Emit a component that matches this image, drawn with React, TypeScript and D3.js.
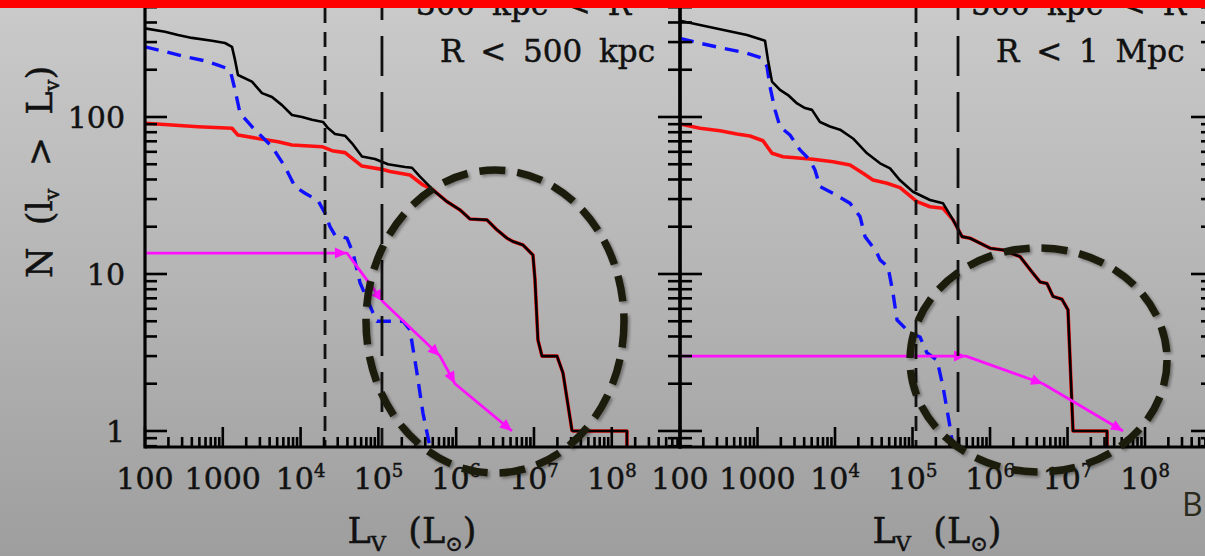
import React from "react";
import * as d3 from "d3";

const WIDTH = 1205;
const HEIGHT = 556;

// ---------- tick labels ----------
const xTickValues = [1e2, 1e3, 1e4, 1e5, 1e6, 1e7, 1e8];
const xTickBase = ["100", "1000", "10", "10", "10", "10", "10"];
const xTickExp = ["", "", "4", "5", "6", "7", "8"];
const yTickValues = [1, 10, 100];
const yTickLabels = ["1", "10", "100"];

// ---------- left panel: 300 kpc < R < 500 kpc ----------
const leftBlackLogL = [2.0, 2.257, 2.424, 2.604, 2.861, 3.028, 3.118, 3.157, 3.195, 3.375, 3.504, 3.632, 3.761, 3.889, 4.018, 4.147, 4.288, 4.352, 4.442, 4.571, 4.661, 4.789, 4.956, 5.123, 5.342, 5.432, 5.535, 5.702, 5.882, 6.049, 6.177, 6.396, 6.524, 6.653, 6.73, 6.859, 6.987, 7.013, 7.051, 7.103, 7.296, 7.373, 7.488, 7.501, 8.195, 8.195];
const leftBlackN = [367, 349, 333, 319, 306, 296, 280, 231, 185, 168, 142, 134, 119, 103, 100, 96, 93, 85, 78, 76, 68, 56, 54, 50, 48, 47.5, 41.7, 34.3, 28.9, 25.6, 22.4, 22.1, 19.1, 16.9, 16.1, 15.3, 13.2, 9.2, 3.8, 3, 3, 2.34, 1.01, 1, 1, 0.79];

const leftRedLogL = [2.0, 2.347, 2.681, 3.118, 3.195, 3.452, 3.71, 3.889, 4.275, 4.404, 4.571, 4.789, 5.046, 5.149, 5.406, 5.573, 5.702, 5.882, 6.049, 6.177, 6.396, 6.524, 6.653, 6.73, 6.859, 6.987, 7.013, 7.051, 7.103, 7.296, 7.373, 7.488, 7.501, 8.195, 8.195];
const leftRedN = [91.2, 89, 86.7, 84.7, 76.7, 73, 69.6, 66.3, 64.7, 61, 59.3, 48.7, 46.4, 44.9, 42.7, 36.9, 34.3, 28.9, 25.6, 22.4, 22.1, 19.1, 16.9, 16.1, 15.3, 13.2, 9.2, 3.8, 3, 3, 2.34, 1.01, 1, 1, 0.79];

const leftBlueLogL = [2.0, 2.257, 2.514, 2.771, 2.938, 3.054, 3.105, 3.157, 3.221, 3.375, 3.632, 3.799, 3.928, 4.057, 4.224, 4.314, 4.378, 4.442, 4.596, 4.674, 4.764, 4.931, 4.982, 5.316, 5.406, 5.496, 5.573, 5.663];
const leftBlueN = [280, 261, 242, 228, 214, 204, 190, 149, 106, 86.7, 64.7, 48.3, 36, 32.7, 29.3, 24.4, 20, 17.7, 16.9, 13.6, 8.8, 5.65, 5, 5, 4.4, 2.34, 1.3, 0.79];

const leftMagentaLogL = [2.0, 4.596, 5.059, 5.792, 5.985, 6.717];
const leftMagentaN = [13.6, 13.6, 6.66, 3, 2, 1];

const leftShortDashLogL = 4.314;
const leftLongDashLogL = 5.046;
// circled region (data bounds: log10 L min/max, log10 N min/max)
const leftCircleLogL = [4.841, 8.157];
const leftCircleLogN = [-0.268, 1.662];

// ---------- right panel: 500 kpc < R < 1 Mpc ----------
const rightBlackLogL = [2.0, 2.258, 2.516, 2.865, 3.097, 3.135, 3.187, 3.29, 3.394, 3.51, 3.613, 3.703, 3.806, 3.935, 4.065, 4.232, 4.413, 4.581, 4.71, 4.839, 5.006, 5.226, 5.394, 5.523, 5.639, 5.742, 6.0, 6.168, 6.387, 6.555, 6.645, 6.735, 6.813, 6.929, 7.006, 7.071, 7.51, 7.51];
const rightBlackN = [410, 385, 362, 333, 306, 231, 168, 149, 138, 122, 114, 111, 93, 87, 83, 73, 58.7, 50.7, 47.1, 39.5, 33.4, 29.6, 28.2, 22.1, 17.3, 16.9, 14.6, 14.2, 12.9, 10.1, 8.9, 8.7, 7.2, 6.9, 5.9, 1, 1, 0.79];

const rightRedLogL = [2.0, 2.258, 2.516, 2.735, 2.903, 3.071, 3.187, 3.329, 3.716, 3.974, 4.194, 4.361, 4.49, 4.671, 4.839, 5.058, 5.226, 5.394, 5.523, 5.639, 5.742, 6.0, 6.168, 6.387, 6.555, 6.645, 6.735, 6.813, 6.929, 7.006, 7.071, 7.51, 7.51];
const rightRedN = [90.2, 84.7, 81.8, 78, 75.7, 70.6, 58.7, 55.8, 53.8, 51.9, 49.4, 43.8, 39.7, 37.8, 35.5, 28.9, 26.8, 26.2, 22.1, 17.3, 16.9, 14.6, 14.2, 12.9, 10.1, 8.9, 8.7, 7.2, 6.9, 5.9, 1, 1, 0.79];

const rightBlueLogL = [2.0, 2.258, 2.555, 2.865, 3.058, 3.123, 3.161, 3.226, 3.29, 3.419, 3.548, 3.677, 3.742, 3.806, 3.974, 4.194, 4.323, 4.387, 4.452, 4.542, 4.581, 4.684, 4.748, 4.8, 4.968, 5.097, 5.187, 5.316, 5.394, 5.484, 5.523];
const rightBlueN = [317, 295, 274, 255, 237, 209, 156, 111, 86.7, 76.8, 61.7, 53.2, 45.9, 36, 32.7, 28.2, 23.2, 17.3, 15.7, 13.6, 12.3, 11.1, 7.57, 5.09, 4.21, 3.97, 3.14, 2.83, 1.91, 1.06, 0.79];

const rightMagentaLogL = [2.0, 5.69, 6.684, 7.716];
const rightMagentaN = [3, 3, 2, 1];

const rightShortDashLogL = 5.045;
const rightLongDashLogL = 5.587;
const rightCircleLogL = [4.968, 8.284];
const rightCircleLogN = [-0.261, 1.166];

// ---------- layout ----------
const Y_TOP = -40;
const Y_BOTTOM = 447;
const X_DOMAIN: [number, number] = [100, 10 ** 8.877];
const Y_DOMAIN: [number, number] = [10 ** -0.102, 1000];

const SERIF = "'DejaVu Serif', serif";
const INK = "#111";

type PanelProps = {
  id: string;
  x0: number;
  x1: number;
  black: [number[], number[]];
  red: [number[], number[]];
  blue: [number[], number[]];
  magenta: [number[], number[]];
  shortDash: number;
  longDash: number;
  circleL: number[];
  circleN: number[];
  title1: string;
  title2: string;
  t1x: number;
  t2x: number;
  labelX: number;
  showYLabels: boolean;
};

function Panel(p: PanelProps) {
  const x = d3.scaleLog().domain(X_DOMAIN).range([p.x0, p.x1]);
  const y = d3.scaleLog().domain(Y_DOMAIN).range([Y_BOTTOM, Y_TOP]);
  const line = d3
    .line<[number, number]>()
    .x((d) => x(10 ** d[0]))
    .y((d) => y(d[1]));
  const pts = (s: [number[], number[]]) => s[0].map((v, i) => [v, s[1][i]] as [number, number]);

  const xTicks: { v: number; major: boolean }[] = [];
  for (let k = 2; k <= 8; k++) {
    for (let m = 1; m <= 9; m++) {
      const v = m * 10 ** k;
      if (v <= X_DOMAIN[1]) xTicks.push({ v, major: m === 1 });
    }
  }
  const yTicks: { v: number; major: boolean }[] = [];
  for (let k = -1; k <= 2; k++) {
    for (let m = 1; m <= 9; m++) {
      const v = m * 10 ** k;
      if (v >= Y_DOMAIN[0] && v <= Y_DOMAIN[1]) yTicks.push({ v, major: m === 1 });
    }
  }
  yTicks.push({ v: 1000, major: true });

  const mag = pts(p.magenta);
  const arrows = mag.slice(1).map((d, i) => {
    const prev = mag[i];
    const px = x(10 ** d[0]);
    const py = y(d[1]);
    const qx = x(10 ** prev[0]);
    const qy = y(prev[1]);
    const ang = (Math.atan2(py - qy, px - qx) * 180) / Math.PI;
    return { px, py, ang };
  });

  const ex0 = x(10 ** p.circleL[0]);
  const ex1 = x(10 ** p.circleL[1]);
  const ey0 = y(10 ** p.circleN[1]);
  const ey1 = y(10 ** p.circleN[0]);

  return (
    <g>
      <clipPath id={`clip-${p.id}`}>
        <rect x={p.x0} y={Y_TOP} width={p.x1 - p.x0} height={Y_BOTTOM - Y_TOP} />
      </clipPath>
      <g clipPath={`url(#clip-${p.id})`} fill="none" strokeLinejoin="round">
        <path d={line(pts(p.red)) || ""} stroke="#ff1010" strokeWidth={3.6} />
        <path d={line(pts(p.blue)) || ""} stroke="#1010ff" strokeWidth={3.4} strokeDasharray="14 9" />
        <path d={line(pts(p.black)) || ""} stroke="#000" strokeWidth={2.6} />
        <path d={line(mag) || ""} stroke="#ff10ff" strokeWidth={2.8} />
        {arrows.map((a, i) => (
          <path
            key={i}
            d="M0,0 L-12,-5.5 L-12,5.5 Z"
            fill="#ff10ff"
            stroke="none"
            transform={`translate(${a.px},${a.py}) rotate(${a.ang})`}
          />
        ))}
        <line x1={x(10 ** p.shortDash)} x2={x(10 ** p.shortDash)} y1={Y_TOP} y2={Y_BOTTOM} stroke={INK} strokeWidth={2.8} strokeDasharray="15 9" />
        <line x1={x(10 ** p.longDash)} x2={x(10 ** p.longDash)} y1={Y_TOP + 20} y2={Y_BOTTOM} stroke={INK} strokeWidth={2.8} strokeDasharray="40 16" />
      </g>
      <g stroke="#000" strokeWidth={2.6}>
        {xTicks.map((t, i) => (
          <line key={`x${i}`} x1={x(t.v)} x2={x(t.v)} y1={Y_BOTTOM} y2={Y_BOTTOM - (t.major ? 20 : 10)} />
        ))}
        {yTicks.map((t, i) => (
          <g key={`y${i}`}>
            <line x1={p.x0} x2={p.x0 + (t.major ? 22 : 12)} y1={y(t.v)} y2={y(t.v)} />
            <line x1={p.x1} x2={p.x1 - (t.major ? 22 : 12)} y1={y(t.v)} y2={y(t.v)} />
          </g>
        ))}
      </g>
      <g stroke="#000" strokeWidth={3.2}>
        <line x1={p.x0} x2={p.x1} y1={Y_BOTTOM} y2={Y_BOTTOM} />
        <line x1={p.x0} x2={p.x0} y1={Y_TOP} y2={Y_BOTTOM + 1.6} />
        <line x1={p.x1} x2={p.x1} y1={Y_TOP} y2={Y_BOTTOM + 1.6} />
      </g>
      <g fontFamily={SERIF} fontSize={30} fill={INK} stroke={INK} strokeWidth={0.5} textAnchor="middle">
        {xTickValues.map((v, i) => (
          <text key={i} x={x(v)} y={489}>
            {xTickBase[i]}
            {xTickExp[i] && (
              <tspan fontSize={18} dy={-12}>
                {xTickExp[i]}
              </tspan>
            )}
          </text>
        ))}
      </g>
      {p.showYLabels && (
        <g fontFamily={SERIF} fontSize={30} fill={INK} stroke={INK} strokeWidth={0.5} textAnchor="end">
          {yTickValues.map((v, i) => (
            <text key={i} x={p.x0 - 20} y={y(v)} dy="0.36em">
              {yTickLabels[i]}
            </text>
          ))}
        </g>
      )}
      <text
        x={p.labelX}
        y={543}
        textAnchor="middle"
        fontFamily={SERIF}
        fontSize={35}
        fill={INK}
        stroke={INK}
        strokeWidth={0.5}
        style={{ whiteSpace: "pre" }}
      >
        L
        <tspan fontSize={21} dy={8}>V</tspan>
        <tspan dy={-8}>{"  (L"}</tspan>
        <tspan fontSize={21} dy={8}>{"\u2299"}</tspan>
        <tspan dy={-8}>)</tspan>
      </text>
      <g fontFamily={SERIF} fontSize={31} fill={INK} stroke={INK} strokeWidth={0.5} style={{ wordSpacing: "7px" }}>
        <text x={p.t1x} y={15}>{p.title1}</text>
        <text x={p.t2x} y={62}>{p.title2}</text>
      </g>
      <ellipse
        cx={(ex0 + ex1) / 2}
        cy={(ey0 + ey1) / 2}
        rx={(ex1 - ex0) / 2}
        ry={(ey1 - ey0) / 2}
        fill="none"
        stroke="#1f1d10"
        strokeWidth={7.5}
        strokeDasharray="26 12"
        filter="url(#shadow)"
      />
    </g>
  );
}

export default function App() {
  return (
    <svg width={WIDTH} height={HEIGHT} style={{ position: "absolute", left: 0, top: 0 }}>
      <defs>
        <linearGradient id="bg" x1="0" y1="0" x2="0" y2="1">
          <stop offset="0" stopColor="#cacaca" />
          <stop offset="0.5" stopColor="#b5b5b5" />
          <stop offset="1" stopColor="#9e9e9e" />
        </linearGradient>
        <filter id="shadow" x="-20%" y="-20%" width="140%" height="140%">
          <feGaussianBlur in="SourceAlpha" stdDeviation="1.5" />
          <feOffset dx="1.5" dy="1.5" result="b" />
          <feComponentTransfer>
            <feFuncA type="linear" slope="0.35" />
          </feComponentTransfer>
          <feMerge>
            <feMergeNode />
            <feMergeNode in="SourceGraphic" />
          </feMerge>
        </filter>
      </defs>
      <rect x={0} y={0} width={WIDTH} height={HEIGHT} fill="url(#bg)" />
      <Panel
        id="l"
        x0={145}
        x1={680}
        black={[leftBlackLogL, leftBlackN]}
        red={[leftRedLogL, leftRedN]}
        blue={[leftBlueLogL, leftBlueN]}
        magenta={[leftMagentaLogL, leftMagentaN]}
        shortDash={leftShortDashLogL}
        longDash={leftLongDashLogL}
        circleL={leftCircleLogL}
        circleN={leftCircleLogN}
        title1="300 kpc < R"
        title2="R < 500 kpc"
        t1x={416}
        t2x={440}
        labelX={412}
        showYLabels={true}
      />
      <Panel
        id="r"
        x0={680}
        x1={1213}
        black={[rightBlackLogL, rightBlackN]}
        red={[rightRedLogL, rightRedN]}
        blue={[rightBlueLogL, rightBlueN]}
        magenta={[rightMagentaLogL, rightMagentaN]}
        shortDash={rightShortDashLogL}
        longDash={rightLongDashLogL}
        circleL={rightCircleLogL}
        circleN={rightCircleLogN}
        title1="500 kpc < R"
        title2="R < 1 Mpc"
        t1x={971}
        t2x={996}
        labelX={937}
        showYLabels={false}
      />
      <text
        transform="translate(52,172) rotate(-90)"
        textAnchor="middle"
        fontFamily={SERIF}
        fontSize={35}
        fill={INK}
        stroke={INK}
        strokeWidth={0.5}
        style={{ whiteSpace: "pre" }}
      >
        {"N  (l"}
        <tspan fontSize={21} dy={7}>v</tspan>
        <tspan dy={-7}>{"  >  L"}</tspan>
        <tspan fontSize={21} dy={7}>v</tspan>
        <tspan dy={-7}>)</tspan>
      </text>
      <text x={1182} y={516} fontFamily="'Open Sans', sans-serif" fontSize={32} fill="#2a2a1c">B</text>
      <rect x={0} y={0} width={WIDTH} height={8} fill="#ff0000" />
    </svg>
  );
}
